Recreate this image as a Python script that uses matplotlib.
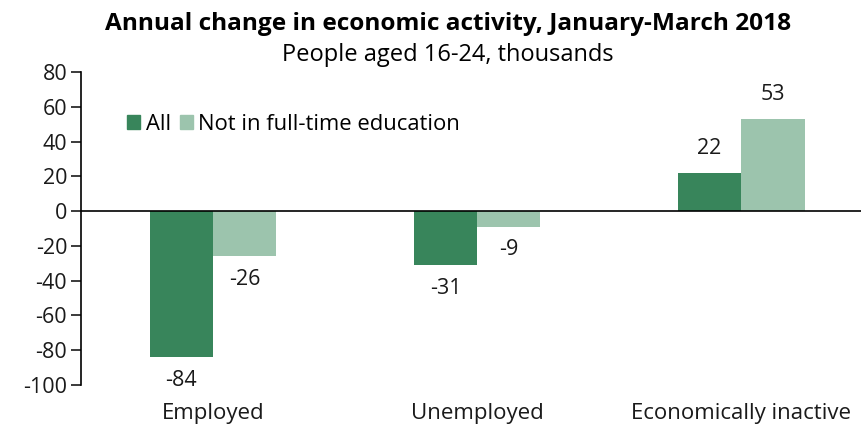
import numpy as np
import matplotlib
matplotlib.use("Agg")
import matplotlib.pyplot as plt
from matplotlib.patches import Patch

plt.rcParams["font.family"] = ["Open Sans", "DejaVu Sans"]
plt.rcParams["axes.unicode_minus"] = False

# Data: annual change, people aged 16-24, thousands
categories = ["Employed", "Unemployed", "Economically inactive"]
all_people = [-84, -31, 22]
not_in_fte = [-26, -9, 53]

DARK = "#38855b"
LIGHT = "#9cc4ad"
TXT = "#1a1a1a"

fig = plt.figure(figsize=(8.62, 4.28), dpi=100)
ax = fig.add_axes([0.094, 0.1005, 0.919, 0.7313])

x = np.arange(len(categories))
w = 0.24
b1 = ax.bar(x - w / 2, all_people, w, color=DARK)
b2 = ax.bar(x + w / 2, not_in_fte, w, color=LIGHT)

for bars, vals in [(b1, all_people), (b2, not_in_fte)]:
    for bar, v in zip(bars, vals):
        xc = bar.get_x() + bar.get_width() / 2
        if v < 0:
            ax.annotate(f"{v}", (xc, v), xytext=(0, -9), textcoords="offset points",
                        ha="center", va="top", fontsize=15.5, color=TXT)
        else:
            ax.annotate(f"{v}", (xc, v), xytext=(0, 10), textcoords="offset points",
                        ha="center", va="bottom", fontsize=15.5, color=TXT)

ax.set_xlim(-0.5, 2.5)
ax.set_ylim(-100, 80)
ax.set_yticks(np.arange(-100, 81, 20))
ax.set_xticks(x)
ax.set_xticklabels(categories)
ax.axhline(0, color="black", linewidth=1.2)

for side in ["top", "right", "bottom"]:
    ax.spines[side].set_visible(False)
ax.spines["left"].set_linewidth(1.2)
ax.tick_params(axis="y", length=7, width=1.2, labelsize=15.5, pad=3, colors=TXT)
ax.tick_params(axis="x", length=0, labelsize=16, pad=13, colors=TXT)

ax.legend(handles=[Patch(color=DARK, label="All"),
                   Patch(color=LIGHT, label="Not in full-time education")],
          loc="center left", bbox_to_anchor=(0.058, 0.832), ncol=2, frameon=False,
          fontsize=15.8, handlelength=0.6, handleheight=0.6, handletextpad=0.25,
          columnspacing=0.4, borderaxespad=0, borderpad=0)

fig.text(0.52, 0.944, "Annual change in economic activity, January-March 2018",
         ha="center", va="center", fontsize=17.6, fontweight="bold")
fig.text(0.52, 0.871, "People aged 16-24, thousands",
         ha="center", va="center", fontsize=17)

fig.savefig("out.png", dpi=100)
